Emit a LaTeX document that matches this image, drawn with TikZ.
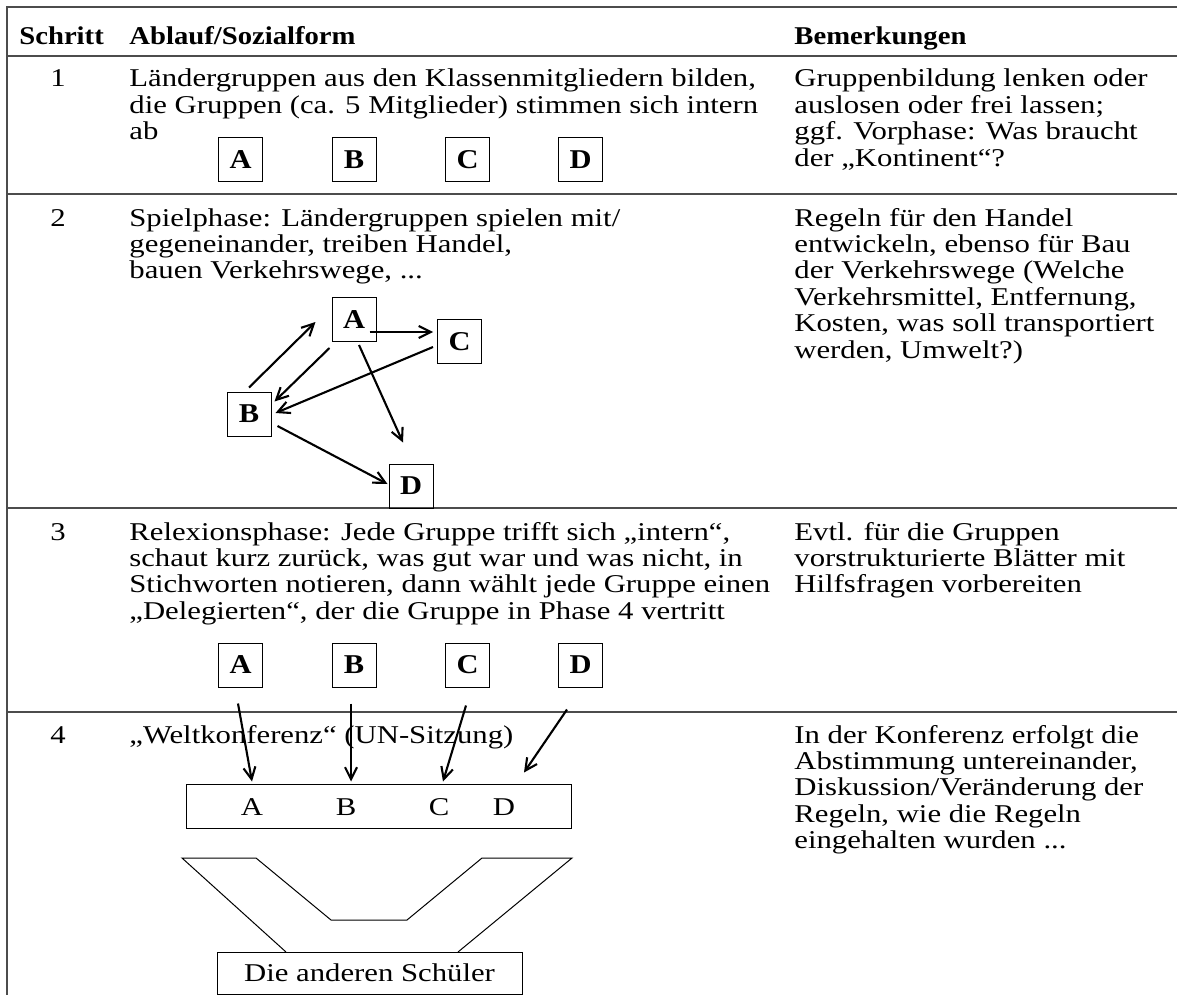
\documentclass[tikz,border=0pt]{standalone}
\usepackage{fontspec}
\setmainfont{Liberation Serif}[FakeStretch=1.2,BoldFeatures={FakeStretch=1.12}]
\usetikzlibrary{arrows.meta,calc}
\colorlet{rulecol}{black!70}
\newcommand{\bodyfont}{\fontsize{12.8}{13.2}\selectfont}
\newcommand{\lines}[1]{\begin{tabular}[t]{@{}l@{}}#1\end{tabular}}
\tikzset{
  % node options
  txt/.style={anchor=base west,inner sep=0pt,font=\bodyfont},
  head/.style={txt,font=\bodyfont\bfseries},
  num/.style={anchor=base,inner sep=0pt,font=\bodyfont},
  group/.style={draw,line width=0.5pt,minimum width=22pt,minimum height=22pt,inner sep=0pt,font=\fontsize{13.6}{14}\selectfont\bfseries},
  seat/.style={num},
  plainbox/.style={draw,line width=0.5pt,inner sep=0pt,font=\bodyfont},
  % path options
  rule/.style={draw=rulecol,line width=1pt},
  outline/.style={line width=0.5pt},
  move/.style={-{Straight Barb[length=6pt,width=6pt]},line width=1.05pt},
}
\begin{document}
\begin{tikzpicture}[x=0.5pt,y=-0.5pt]
  \useasboundingbox (0,0) rectangle (1177,995);
  % table lines
  \draw[rule] (7,995) -- (7,7) -- (1177,7);
  \foreach \y in {56,194,508,712}
    \draw[rule] (7,\y) -- (1177,\y);
  % header
  \node[head] (hStep) at (19,45) {Schritt};
  \node[head] (hFlow) at (129,45) {Ablauf/Sozialform};
  \node[head] (hNote) at (794,45) {Bemerkungen};
  % step 1
  \node[num] (n1) at (58,87) {1};
  \node[txt] (flow1) at (129,87) {\lines{Ländergruppen aus den Klassenmitgliedern bilden,\\die Gruppen (ca. 5 Mitglieder) stimmen sich intern\\ab}};
  \node[txt] (note1) at (794,87) {\lines{Gruppenbildung lenken oder\\auslosen oder frei lassen;\\ggf. Vorphase: Was braucht\\der „Kontinent“?}};
  \foreach \g/\x in {A/240.5,B/354,C/467.5,D/580.5}
    \node[group] (f\g) at (\x,159.5) {\g};
  % step 2
  \node[num] (n2) at (58,226) {2};
  \node[txt] (flow2) at (129,226) {\lines{Spielphase: Ländergruppen spielen mit/\\gegeneinander, treiben Handel,\\bauen Verkehrswege, ...}};
  \node[txt] (note2) at (794,226) {\lines{Regeln für den Handel\\entwickeln, ebenso für Bau\\der Verkehrswege (Welche\\Verkehrsmittel, Entfernung,\\Kosten, was soll transportiert\\werden, Umwelt?)}};
  \node[group] (pA) at (354,319.5) {A};
  \node[group] (pC) at (459.5,341.5) {C};
  \node[group] (pB) at (249,414) {B};
  \node[group] (pD) at (411,486) {D};
  \draw[move] ($(pB.north)+(0,-4)$) -- ($(pA.west)+(-16,2.5)$);
  \draw[move] ($(pA.south west)+(-2,6)$) -- ($(pB.north east)+(3,10)$);
  \draw[move] ($(pA.east)+(-7,12.5)$) -- ($(pC.west)+(-4,-9.5)$);
  \draw[move] ($(pC.west)+(-4,5.5)$) -- ($(pB.east)+(4,-1)$);
  \draw[move] ($(pA.south)+(5,3)$) -- ($(pD.north)+(-8,-21)$);
  \draw[move] ($(pB.east)+(6,12)$) -- ($(pD.west)+(-1,-2)$);
  % step 3
  \node[num] (n3) at (58,540) {3};
  \node[txt] (flow3) at (129,540) {\lines{Relexionsphase: Jede Gruppe trifft sich „intern“,\\schaut kurz zurück, was gut war und was nicht, in\\Stichworten notieren, dann wählt jede Gruppe einen\\„Delegierten“, der die Gruppe in Phase 4 vertritt}};
  \node[txt] (note3) at (794,540) {\lines{Evtl. für die Gruppen\\vorstrukturierte Blätter mit\\Hilfsfragen vorbereiten}};
  \foreach \g/\x in {A/240.5,B/354,C/467.5,D/580.5}
    \node[group] (d\g) at (\x,665) {\g};
  % step 4
  \node[num] (n4) at (58,743) {4};
  \node[txt] (flow4) at (129,743) {„Weltkonferenz“ (UN-Sitzung)};
  \node[txt] (note4) at (794,743) {\lines{In der Konferenz erfolgt die\\Abstimmung untereinander,\\Diskussion/Veränderung der\\Regeln, wie die Regeln\\eingehalten wurden ...}};
  \node[plainbox,minimum width=192.5pt,minimum height=22pt] (conf) at (378.5,806) {};
  \foreach \g/\x in {A/252,B/346,C/439,D/504}
    \node[seat] (c\g) at (\x,815) {\g};
  \draw[move] ($(dA.south)+(-2.5,16)$) -- ($(cA |- conf.north)+(0,-2)$);
  \draw[move] ($(dB.south)+(-3,16)$) -- ($(cB |- conf.north)+(5,-2)$);
  \draw[move] ($(dC.south)+(-1.5,18)$) -- ($(cC |- conf.north)+(4,-2)$);
  \draw[move] ($(dD.south)+(-13.5,22)$) -- ($(cD |- conf.north)+(20,-11)$);
  \node[plainbox,minimum width=152.5pt,minimum height=21pt] (others) at (369.5,973) {Die anderen Schüler};
  \draw[outline] (286,952) -- (182,858) -- (256,858) -- (331,920) -- (407,920) -- (482,858) -- (572,858) -- (458,952);
\end{tikzpicture}
\end{document}
